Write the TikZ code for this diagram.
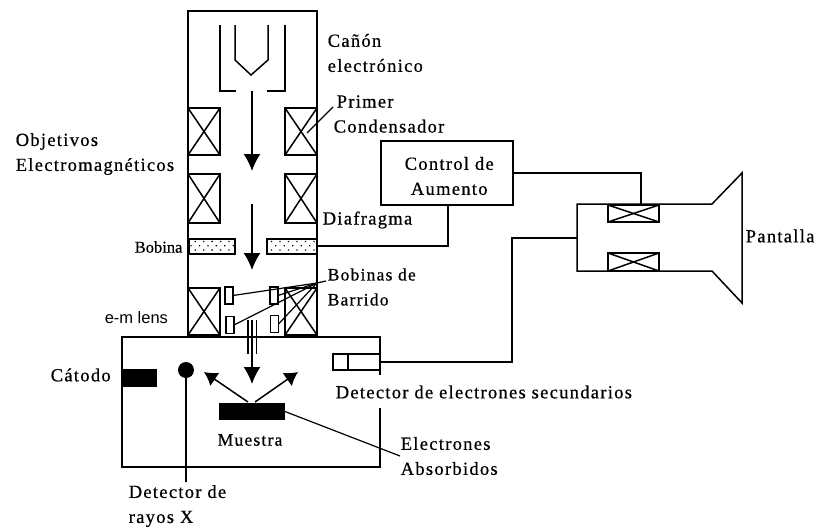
\documentclass[tikz,border=0pt]{standalone}
\usepackage{fontspec}
\setmainfont[LetterSpace=7,FakeBold=0.6]{Liberation Serif}
\newfontfamily\lenssans{Liberation Sans}
\usetikzlibrary{patterns.meta,arrows.meta}

\begin{document}
\begin{tikzpicture}[
  x=1pt, y=-1pt,
  line width=1.5pt,
  lbl/.style={font=\fontsize{18.5}{25}\selectfont, inner sep=0pt, anchor=west, align=left},
  lbl small/.style={lbl, font=\fontsize{17.5}{25}\selectfont},
  box/.style={draw, inner sep=0pt, outer sep=0pt},
  coil/.style={box, path picture={
    \draw (path picture bounding box.north west) -- (path picture bounding box.south east);
    \draw (path picture bounding box.north east) -- (path picture bounding box.south west);}},
  bobina/.style={box, minimum height=15pt, pattern={Dots[distance=6pt,radius=0.9pt,angle=45]}},
  scancoil/.style={box, minimum width=8pt, minimum height=17pt},
  solid/.style={fill=black, inner sep=0pt, outer sep=0pt},
  beam/.style={-{Latex[length=17pt,width=17pt]}},
  ray/.style={-{Latex[length=13pt,width=16pt]}},
  thin line/.style={line width=1.2pt},
]
\useasboundingbox (0,0) rectangle (820,530);
% Columna
\draw (188,288) |- (317,11) -- (317,335);
\draw (220,25) -- (220,91) -- (236,91);
\draw (285,25) -- (285,91) -- (267,91);
\draw (235,25) -- (235,60) -- (251,75) -- (268,60) -- (268,25);
% Lentes
\node[coil, minimum width=32pt, minimum height=47pt] (coilA) at (204,131.5) {};
\node[coil, minimum width=32pt, minimum height=47pt] (coilB) at (301,131.5) {};
\node[coil, minimum width=32pt, minimum height=49pt] (coilC) at (204,198.5) {};
\node[coil, minimum width=32pt, minimum height=49pt] (coilD) at (301,198.5) {};
\node[bobina, minimum width=46pt] (bobL) at (212,246.5) {};
\node[bobina, minimum width=50pt] (bobR) at (292,246.5) {};
\node[coil, minimum width=32pt, minimum height=47pt] (coilE) at (204,311.5) {};
\node[coil, minimum width=32pt, minimum height=47pt] (coilF) at (301,311.5) {};
\node[scancoil] (scanA) at (229,295.5) {};
\node[scancoil] (scanB) at (230,325) {};
\node[scancoil] (scanC) at (274,295.5) {};
\node[scancoil] (scanD) at (274.5,324) {};
% Haz
\coordinate (beamA) at (252,91);
\coordinate (beamB) at (252,171);
\coordinate (beamC) at (252,204);
\coordinate (beamD) at (252,270);
\draw[beam] (beamA) -- (beamB);
\draw[beam] (beamC) -- (beamD);
\draw[thin line] (248,320) -- (248,354);
\draw[thin line] (256.5,320) -- (256.5,354);
\draw[beam] (252,320) -- (252,384);
% Camara
\draw (317,337) -- (122,337) |- (380,467) -- (380,408);
\draw (317,337) -| (380,375);
\node[solid, minimum width=35pt, minimum height=18pt] (catodo) at (139.5,378) {};
\node[solid, circle, minimum size=16pt] (rayosX) at (186,370) {};
\node[solid, minimum width=66pt, minimum height=17pt] (muestra) at (252,411.5) {};
\node[box, minimum width=15pt, minimum height=16pt] (detA) at (340.5,362) {};
\node[box, minimum width=32pt, minimum height=16pt] (detB) at (364,362) {};
\coordinate (rayosEnd) at (186,482);
\draw[thin line] (rayosX) -- (rayosEnd);
\draw[ray] (248,402) -- (204,372);
\draw[ray] (255,402) -- (298,372);
% Control y pantalla
\node[box, minimum width=132pt, minimum height=64pt] (control) at (447,173) {};
\coordinate (tubeTL) at (577,204);
\coordinate (tubeBL) at (577,271);
\coordinate (tubeTR) at (712,204);
\coordinate (tubeBR) at (712,271);
\coordinate (screenT) at (742,173);
\coordinate (screenB) at (742,303);
\draw (screenB) -- (tubeBR) -- (tubeBL) -- (tubeTL) -- (tubeTR) -- (screenT) -- cycle;
\node[coil, minimum width=51pt, minimum height=17pt] (defA) at (633.5,213.5) {};
\node[coil, minimum width=51pt, minimum height=18pt] (defB) at (633.5,262) {};
\coordinate (tubeIn) at (577,238);
\coordinate (tubeTop) at (641,204);
\draw (control.east) -| (tubeTop);
\draw (control.south -| 448,205) |- (317,246);
\draw (detB.east) -| (512,238) -- (tubeIn);
% Punteros
\coordinate (bobinasTip) at (326,281);
\coordinate (bobinasHub) at (317,283);
\draw[thin line] (bobinasTip) -- (bobinasHub) -- (scanA.east);
\draw[thin line] (bobinasHub) -- (scanB.east);
\draw[thin line] (bobinasHub) -- (scanC.east);
\draw[thin line] (bobinasHub) -- (scanD.east);
\coordinate (primerTip) at (333,107);
\coordinate (primerEnd) at (307,133);
\draw[thin line] (primerTip) -- (primerEnd);
\coordinate (absorbEnd) at (400,456);
\draw[thin line] (muestra.east) -- (absorbEnd);
% Textos
\node[lbl] (canon) at (327,53) {Cañón\\electrónico};
\node[lbl] (primer) at (333,114) {\hspace{3pt}Primer\\Condensador};
\node[lbl] (objetivos) at (15,154) {Objetivos\\Electromagnéticos};
\node[lbl, align=center] (controlTxt) at (404,176) {Control de\\Aumento};
\node[lbl] (diafragma) at (322,220) {Diafragma};
\node[lbl, font=\fontsize{16.5}{18}\selectfont\addfontfeature{LetterSpace=0}] (bobina) at (134,247) {Bobina};
\node[lbl small] (bobinas) at (327,287) {Bobinas de\\Barrido};
\node[lbl, font=\lenssans\fontsize{16.5}{18}\selectfont] (lens) at (104,318) {e-m lens};
\node[lbl] (catodoTxt) at (50,375) {Cátodo};
\node[lbl] (detector) at (335,392) {Detector de electrones secundarios};
\node[lbl small] (muestraTxt) at (217,440) {Muestra};
\node[lbl] (electrones) at (400,456) {Electrones\\Absorbidos};
\node[lbl] (rayosTxt) at (128,506) {Detector de\\rayos X};
\node[lbl] (pantalla) at (745,236) {Pantalla};
\end{tikzpicture}
\end{document}
